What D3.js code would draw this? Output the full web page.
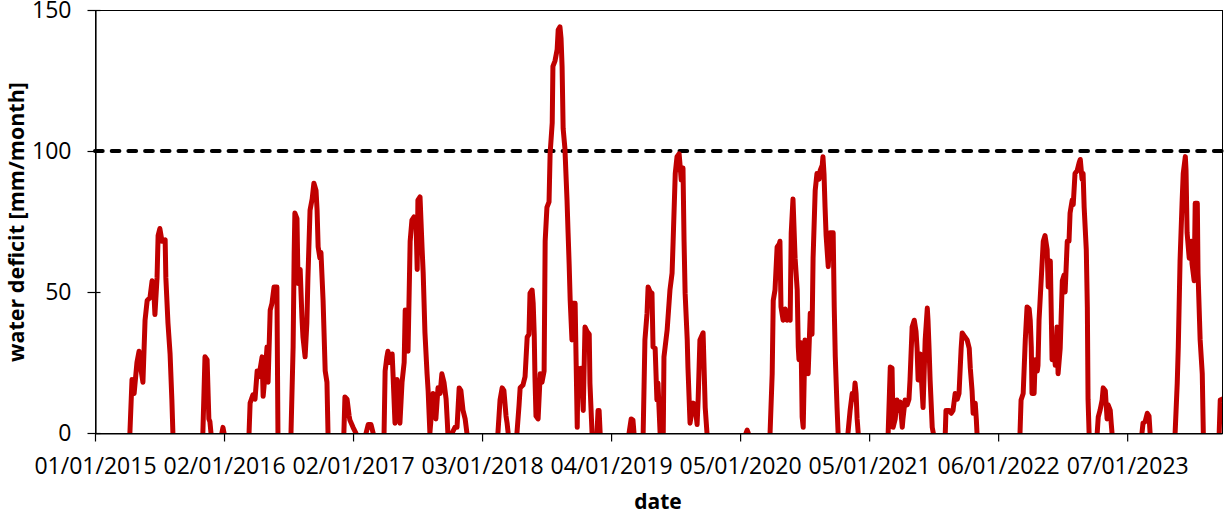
<!DOCTYPE html>
<html>
<head>
<meta charset="utf-8">
<script src="https://cdn.jsdelivr.net/npm/d3@7"></script>
<style>
  body { margin: 0; background: #fff; }
  text { font-family: "Open Sans", "Noto Sans", sans-serif; fill: #000; }
</style>
</head>
<body>
<script>
// water deficit chart

var width = 1224,
    height = 513;

// series: day = days since 01/01/2015, deficit in mm/month (null = break in the line)
var day = [
  99,105,111,119,125,131,136,142,148,156,162,167,170,176,179,184,190,199,201,207,213,218,221, null,
  306,312,318,323,326,329, null,
  360,363,366, null,
  437,440,448,454,460,465,474,477,482,488,491,497,502,508,516,519, null,
  556,562,565,567,573,576,582,587,590,596,601,604,610,616,621,627,630,633,638,641,647,653,658,661, null,
  706,709,715,721,723,732,740, null,
  769,775,783,789, null,
  820,823,828,831,837,843,845,851,857,862,865,871,877,880,885,888,894,899,905,911,914,916,922,928,931,936,942,945,950,
  959,965,967,973,979,984,990,996,999,1001, null,
  1013,1021,1027,1033,1038,1044,1050,1055, null,
  1143,1149,1155,1160,1166,1169,1172, null,
  1197,1203,1206,1214,1220,1226,1231,1234,1240,1243,1246,1248,1251,1257,1263,1268,1274,1277,1282,1288,
  1291,1297,1299,1305,1311,1314,1319,1322,1325,1328,1333,1339,1342,1345,1348,1353,1356,1362,1368,1370,
  1376,1379,1385,1390,1396,1402,1404,1410, null,
  1424,1427,1430,1433, null,
  1515,1521,1526,1529, null,
  1555,1560,1566,1569,1575,1580,1583,1589,1594,1597,1603,1606,1612,1614,1623,1631,1637,1640,1646,1651,
  1657,1663,1668,1671,1674,1680,1682,1688,1697,1702,1708,1711,1716,1725,1731,1736, null,
  1847,1850,1853, null,
  1915,1921,1924,1929,1935,1941,1943,1946,1952,1958,1963,1969,1972,1975,1980,1986,1992,1995,1997,2003,
  2006,2009,2014,2020,2023,2029,2034,2037,2043,2048,2054,2057,2063,2065,2068,2071,2074,2080,2085,2094,
  2097,2100,2105,2108, null,
  2136,2142,2148,2153,2156,2159,2162,2165, null,
  2250,2256,2261,2264,2270,2275,2281,2284,2290,2292,2298,2304,2309,2312,2318,2324,2329,2332,2335,2341,
  2344,2349,2355,2361,2363,2366,2369,2375,2378, null,
  2412,2414,2423,2429,2434,2440,2446,2451,2457,2460,2468,2474,2480,2483,2488,2491,2497,2500,2502, null,
  2624,2627,2633,2639,2644,2650,2653,2656,2658,2664,2667,2673,2675,2678,2684,2690,2695,2701,2704,2710,
  2715,2721,2724,2729,2732,2738,2744,2749,2752,2758,2763,2766,2772,2775,2780,2786,2792,2795,2800,2803,
  2806,2812,2815,2817,2820, null,
  2843,2846,2851,2857,2860,2866,2871,2874,2880,2883,2885, null,
  2970,2973,2979,2985,2990,2993, null,
  3064,3070,3073,3078,3084,3087,3093,3095,3098,3104,3110,3112,3118,3121,3127,3129,3135,3141,3144, null,
  3189,3192,3197
];

var deficit = [
  0,19,14,25,29,22,18,40,47,48,54,50,42,55,70,72.5,68,68.5,55,39,28,12,0, null,
  0,27,26,5,4,0, null,
  0,2,0, null,
  0,10.6,13.5,12,22,20,27,13,20,30.5,18,43.6,46,51.8,51.8,0, null,
  0,30.5,64,78,76,53,58,41,34,27,39,55,79,83,88.6,86,79,66,62,64,47,22,18,0, null,
  0,12.8,12,6,4.6,2,0, null,
  0,3,3,0, null,
  0,22,27,29,25,28,22,3.5,19,10,3.5,18,25,43.6,40,29,68,75.5,76.6,73,58,82.6,83.7,65,56.7,35.5,21,15,0,
  14,12,5,16,14,21,18,12,5,0, null,
  0,2,2,16,15,8,5,0, null,
  0,11.7,16,15,6,3.5,0, null,
  0,10,16,17,20,34,35,49.6,50.7,46,35,20,6,5,21,18,22,68,80,82,
  99,110,130,132,136,143,144,140,130,108,101,82.6,71,60,47,33,46,46,2,23,
  18,23,8,37.6,36,35,17.7,0, null,
  0,8,8,0, null,
  0,5,4.6,0, null,
  0,33,42.5,51.8,50,49.6,30.5,30,11.7,17.7,0,12,0,27,36.5,50.7,56.7,68,92,98,
  99,89.7,94,68,49.6,33,23.4,3.5,10.6,10,3,12,33,35.5,9,0, null,
  0,1,0, null,
  0,21,47,50.7,66,67,68,44.7,40,44,40,42,40,71,83,62,50.7,30.5,26,32,
  5.7,2,33,30,21,42.5,35,62,86,92,90,93,95,98,92,80,70,59,71,71,
  44.7,27,9,0, null,
  0,8,14,12,17.7,14,5,0, null,
  0,23.4,23,2,5,11.7,8,11,2,5,11.7,10,12,18.8,37.6,40,36,30,18.8,28,
  20,9,33,44.3,40,30,18.8,2,0, null,
  0,8,8,7,8,14,12,14,30,35.5,34,33,30,23,15,7,10.6,5,0, null,
  0,11.7,14,33,44.7,44,40,30.5,14,14,26,22,24,40,54,68,70,65,51.8,61,
  26,30,24,37.6,21,30,54,56,50,68,68,78,82.6,81,92,93,96,97,90,92,
  80,65,44.7,12,0, null,
  0,5.7,8,11.7,16,15,5,10,8,3,0, null,
  0,3.5,4,7,6,0, null,
  0,17.7,30.5,61,82.6,92,98,93,71,62,68,60,54,81.5,81.5,56.7,33,21,0, null,
  0,11.7,12
];

var xTickLabels = ["01/01/2015", "02/01/2016", "02/01/2017", "03/01/2018", "04/01/2019",
                   "05/01/2020", "05/01/2021", "06/01/2022", "07/01/2023"];
var xStart = "01/01/2015", xEnd = "03/10/2023";
var yTicks = [0, 50, 100, 150];
var threshold = 100;

var parseDate = d3.utcParse("%d/%m/%Y"),
    formatDate = d3.utcFormat("%d/%m/%Y");
var start = parseDate(xStart);

var dataset = day.map(function(d, i) {
  return { time: d === null ? null : d3.utcDay.offset(start, d), value: deficit[i] };
});

// plot area edges (top is a reserved window name, so prefix them)
var plotLeft = 95, plotRight = 1222, plotTop = 10, plotBottom = 433;

var xScale = d3.scaleUtc()
    .domain([start, parseDate(xEnd)])
    .range([plotLeft, plotRight]);

var yScale = d3.scaleLinear()
    .domain([0, 150])
    .range([plotBottom, plotTop]);

var viz = d3.select("body").append("svg")
    .attr("width", width)
    .attr("height", height);

viz.append("clipPath").attr("id", "plot")
  .append("rect")
    .attr("x", plotLeft).attr("y", plotTop)
    .attr("width", plotRight - plotLeft).attr("height", plotBottom - plotTop);

// plot frame
viz.append("rect")
    .attr("x", plotLeft + 0.5).attr("y", plotTop + 0.5)
    .attr("width", plotRight - plotLeft).attr("height", plotBottom - plotTop)
    .attr("fill", "none")
    .attr("stroke", "#000")
    .attr("stroke-width", 1);

// threshold line at 100
viz.append("line")
    .attr("x1", plotLeft).attr("x2", plotRight)
    .attr("y1", yScale(threshold)).attr("y2", yScale(threshold))
    .attr("stroke", "#000")
    .attr("stroke-width", 4)
    .attr("stroke-linecap", "round")
    .attr("stroke-dasharray", "7.7,9");

// the series
var line = d3.line()
    .defined(function(d) { return d.value !== null; })
    .x(function(d) { return xScale(d.time); })
    .y(function(d) { return yScale(d.value); });

viz.append("path")
    .datum(dataset)
    .attr("clip-path", "url(#plot)")
    .attr("d", line)
    .attr("fill", "none")
    .attr("stroke", "#C00000")
    .attr("stroke-width", 5)
    .attr("stroke-linejoin", "round")
    .attr("stroke-linecap", "round");

// axes
var yAxis = d3.axisLeft(yScale)
    .tickValues(yTicks)
    .tickSize(8)
    .tickSizeOuter(0)
    .tickPadding(16);

var gy = viz.append("g")
    .attr("transform", "translate(" + (plotLeft + 0.5) + ",0)")
    .call(yAxis);
gy.selectAll(".tick line").attr("x1", 5);

var xAxis = d3.axisBottom(xScale)
    .tickValues(xTickLabels.map(parseDate))
    .tickFormat(formatDate)
    .tickSize(8)
    .tickSizeOuter(0)
    .tickPadding(16);

var gx = viz.append("g")
    .attr("transform", "translate(0," + (plotBottom + 0.5) + ")")
    .call(xAxis);

viz.selectAll(".domain, .tick line").attr("stroke", "#000").attr("stroke-width", 1.2);
viz.selectAll(".tick text")
    .attr("font-family", "'Open Sans', sans-serif")
    .attr("font-size", 23)
    .attr("fill", "#000");

// axis titles
viz.append("text")
    .attr("transform", "translate(24," + 222 + ") rotate(-90)")
    .style("text-anchor", "middle")
    .style("font-size", "21.5px")
    .style("font-weight", "bold")
    .text("water deficit [mm/month]");

viz.append("text")
    .attr("x", 658)
    .attr("y", 509)
    .style("text-anchor", "middle")
    .style("font-size", "21px")
    .style("font-weight", "bold")
    .text("date");
</script>
</body>
</html>
